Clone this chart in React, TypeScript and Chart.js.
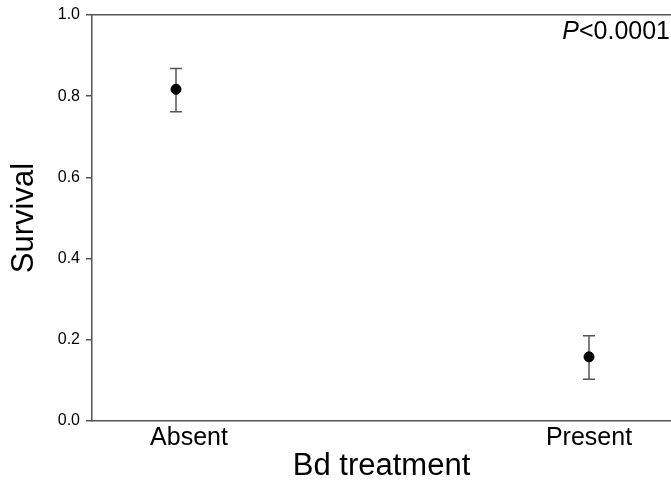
import React, { useEffect, useRef } from 'react';
import { Chart, registerables } from 'chart.js';

Chart.register(...registerables);

// ---- data ----
const categories = ['Absent', 'Present'];
const survival = [0.817, 0.158];
const errLower = [0.762, 0.103];
const errUpper = [0.868, 0.21];
const yTickValues = [0, 0.2, 0.4, 0.6, 0.8, 1.0];
const pItalic = 'P';
const pRest = '<0.0001';
const xTitle = 'Bd treatment';
const yTitle = 'Survival';

const FONT = 'Arial, "Liberation Sans", Helvetica, sans-serif';
const AXIS = '#555555';

export default function App() {
  const ref = useRef<HTMLCanvasElement | null>(null);

  useEffect(() => {
    document.body.style.margin = '0';
    const canvas = ref.current;
    if (!canvas) return;

    const errorBars = {
      id: 'errorBars',
      beforeDatasetsDraw(chart: any) {
        const { ctx, scales } = chart;
        const xs = scales.x;
        const ys = scales.y;
        ctx.save();
        ctx.strokeStyle = AXIS;
        ctx.lineWidth = 1.5;
        categories.forEach((_, i) => {
          const x = xs.getPixelForValue(i);
          const yl = ys.getPixelForValue(errLower[i]);
          const yh = ys.getPixelForValue(errUpper[i]);
          ctx.beginPath();
          ctx.moveTo(x, yl);
          ctx.lineTo(x, yh);
          ctx.moveTo(x - 6, yl);
          ctx.lineTo(x + 6, yl);
          ctx.moveTo(x - 6, yh);
          ctx.lineTo(x + 6, yh);
          ctx.stroke();
        });
        ctx.restore();
      },
    };

    const pText = {
      id: 'pText',
      afterDraw(chart: any) {
        const { ctx, chartArea } = chart;
        ctx.save();
        ctx.fillStyle = '#000';
        ctx.textBaseline = 'alphabetic';
        ctx.textAlign = 'left';
        ctx.font = `25px ${FONT}`;
        const restW = ctx.measureText(pRest).width;
        const right = chartArea.right - 1;
        const base = chartArea.top + 24;
        ctx.fillText(pRest, right - restW, base);
        ctx.textAlign = 'right';
        ctx.font = `italic 25px ${FONT}`;
        ctx.fillText(pItalic, right - restW, base);
        ctx.restore();
      },
    };

    const zeroPad = (scale: any) => {
      scale.paddingLeft = 0;
      scale.paddingRight = 0;
      scale.paddingTop = 0;
      scale.paddingBottom = 0;
    };

    const chart = new Chart(canvas, {
      type: 'scatter',
      data: {
        datasets: [
          {
            data: categories.map((_, i) => ({ x: i, y: survival[i] })),
            backgroundColor: '#000',
            borderColor: '#000',
            pointRadius: 5,
            pointHoverRadius: 5,
            showLine: false,
          },
        ],
      },
      options: {
        animation: false,
        responsive: false,
        maintainAspectRatio: false,
        events: [],
        layout: { autoPadding: false, padding: { top: 15, left: 0, right: 0, bottom: 0 } },
        plugins: {
          legend: { display: false },
          tooltip: { enabled: false },
          title: { display: false },
        },
        scales: {
          x: {
            type: 'linear',
            position: 'bottom',
            min: -0.2034,
            max: 1.1985,
            afterBuildTicks: (scale: any) => {
              scale.ticks = [{ value: 0.0315 }, { value: 1 }];
            },
            afterFit: (scale: any) => {
              scale.height = 62;
              zeroPad(scale);
            },
            ticks: {
              autoSkip: false,
              maxRotation: 0,
              padding: 2,
              color: '#000',
              font: { family: FONT, size: 25 },
              callback: (_v: any, idx: number) => categories[idx],
            },
            grid: { display: false, drawTicks: false },
            border: { display: true, color: AXIS, width: 1.5 },
            title: {
              display: true,
              text: xTitle,
              color: '#000',
              font: { family: FONT, size: 31, lineHeight: 1 },
              padding: { top: 0, bottom: 1 },
            },
          },
          x2: {
            type: 'linear',
            position: 'top',
            min: 0,
            max: 1,
            afterFit: (scale: any) => {
              scale.height = 0;
              zeroPad(scale);
            },
            ticks: { display: false },
            grid: { display: false, drawTicks: false },
            border: { display: true, color: AXIS, width: 1.5 },
          },
          y: {
            type: 'linear',
            position: 'left',
            min: 0,
            max: 1,
            afterBuildTicks: (scale: any) => {
              scale.ticks = yTickValues.map((v) => ({ value: v }));
            },
            afterFit: (scale: any) => {
              scale.width = 92;
              zeroPad(scale);
            },
            ticks: {
              padding: 6,
              color: '#000',
              font: { family: FONT, size: 16 },
              callback: (v: any) => Number(v).toFixed(1),
            },
            grid: {
              drawOnChartArea: false,
              drawTicks: true,
              tickLength: 6,
              color: AXIS,
              lineWidth: 1.5,
            },
            border: { display: true, color: AXIS, width: 1.5 },
            title: {
              display: true,
              text: yTitle,
              color: '#000',
              font: { family: FONT, size: 31, lineHeight: 1 },
              padding: { top: 9, bottom: 0 },
            },
          },
        },
      },
      plugins: [errorBars, pText],
    });

    return () => chart.destroy();
  }, []);

  return (
    <div style={{ width: 671, height: 483 }}>
      <canvas ref={ref} width={671} height={483} style={{ display: 'block' }} />
    </div>
  );
}
